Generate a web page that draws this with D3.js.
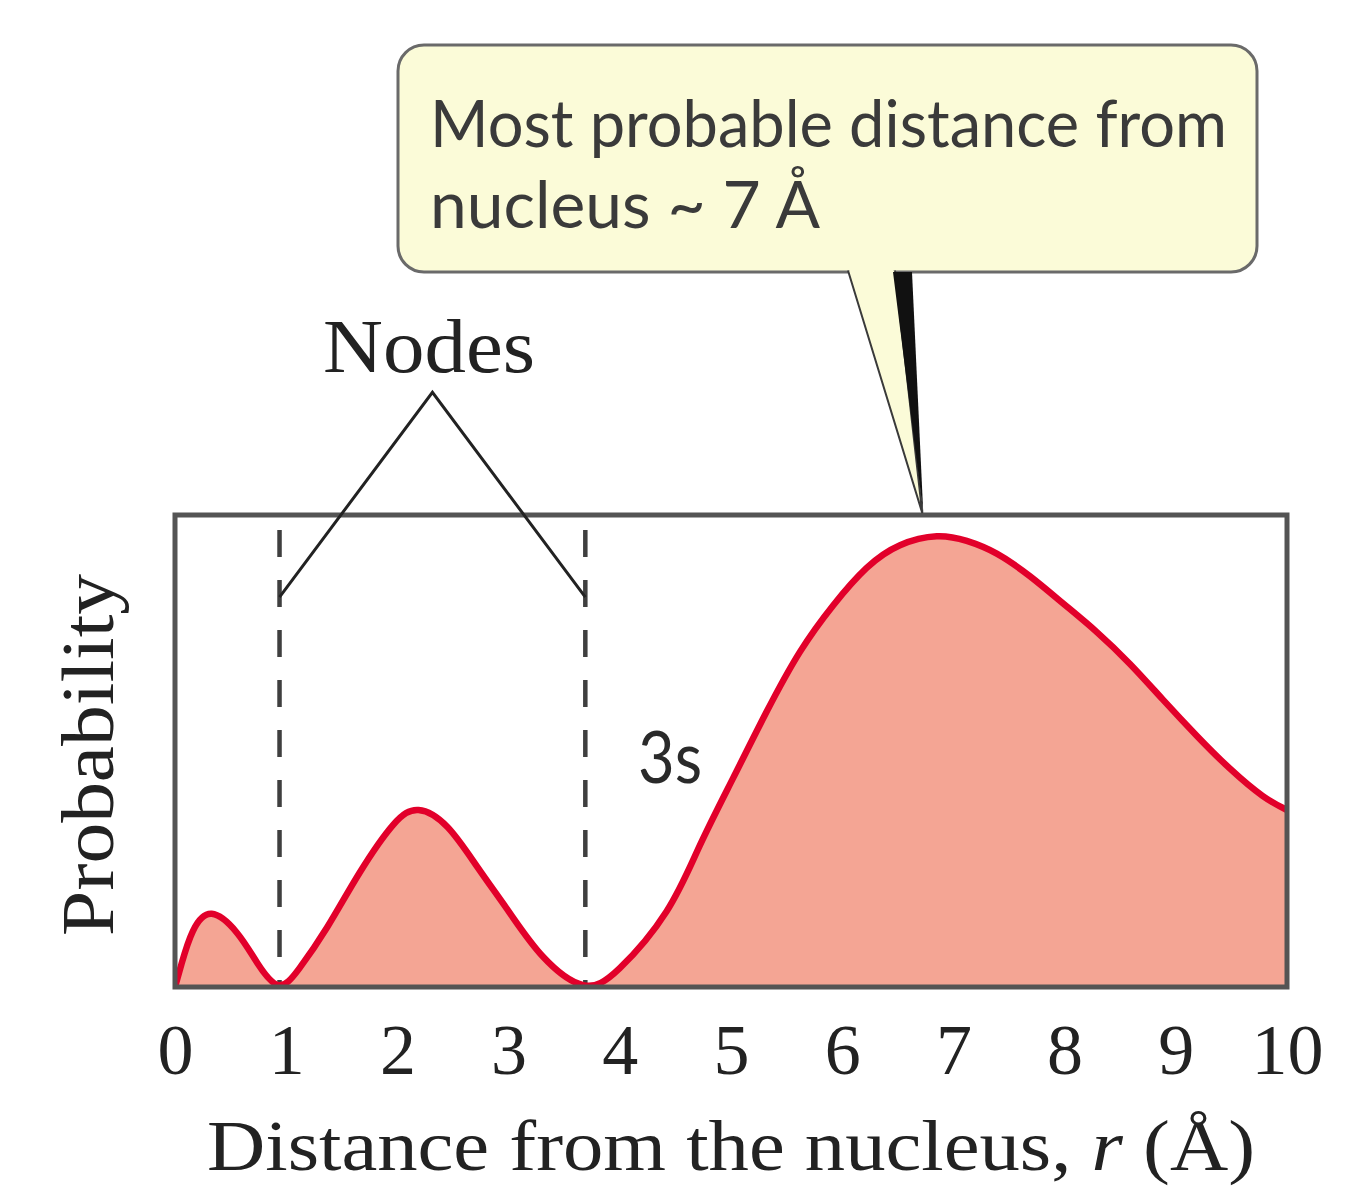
<!DOCTYPE html>
<html>
<head>
<meta charset="utf-8">
<script src="https://cdn.jsdelivr.net/npm/d3@7"></script>
<style>
  html, body { margin: 0; padding: 0; background: #ffffff; }
  svg { display: block; }
</style>
</head>
<body>
<svg id="chart" width="1354" height="1200"></svg>
<script>
// ---------- data ----------
const radius = [0, 0.06, 0.16, 0.33, 0.56, 0.74, 0.93, 1.12, 1.37, 1.66, 1.96, 2.19, 2.45, 2.72, 3.01, 3.31, 3.67, 4.00, 4.42, 4.72, 5.02, 5.32, 5.62, 5.92, 6.22, 6.52, 6.85, 7.12, 7.39, 7.69, 7.99, 8.29, 8.59, 8.88, 9.19, 9.49, 9.78, 10.0];
const probability = [0, 0.05, 0.118, 0.155, 0.114, 0.051, 0.004, 0.040, 0.127, 0.242, 0.343, 0.375, 0.339, 0.254, 0.157, 0.064, 0.004, 0.040, 0.160, 0.300, 0.443, 0.583, 0.710, 0.809, 0.888, 0.936, 0.955, 0.945, 0.918, 0.870, 0.812, 0.752, 0.684, 0.610, 0.532, 0.462, 0.405, 0.375];
const tickValues = [0, 1, 2, 3, 4, 5, 6, 7, 8, 9, 10];
const tickLabels = ["0", "1", "2", "3", "4", "5", "6", "7", "8", "9", "10"];
const nodePositions = [0.94, 3.69];
const xTitle = ["Distance from the nucleus, ", "r", " (Å)"];
const yTitle = "Probability";
const seriesLabel = "3s";
const nodesLabel = "Nodes";
const calloutLines = ["Most probable distance from", "nucleus ~ 7 Å"];
const mostProbable = 6.72;

// ---------- layout ----------
const svg = d3.select("#chart");
const plot = { left: 175, right: 1287, top: 515, bottom: 987 };
const x = d3.scaleLinear().domain([0, 10]).range([plot.left, plot.right]);
const y = d3.scaleLinear().domain([0, 1]).range([plot.bottom, plot.top]);
const serif = "'Liberation Serif', 'DejaVu Serif', serif";
const sans = "Lato, 'Open Sans', 'DejaVu Sans', sans-serif";

const data = radius.map((r, i) => ({ r, p: probability[i] }));

svg.append("defs").append("clipPath").attr("id", "plotClip")
  .append("rect")
  .attr("x", plot.left).attr("y", plot.top)
  .attr("width", plot.right - plot.left).attr("height", plot.bottom - plot.top);

const g = svg.append("g").attr("clip-path", "url(#plotClip)");

// filled area
const area = d3.area().x(d => x(d.r)).y0(y(0)).y1(d => y(d.p)).curve(d3.curveNatural);
g.append("path").datum(data).attr("d", area).attr("fill", "#f4a594");

// node dashed lines
g.selectAll("line.node").data(nodePositions).enter().append("line")
  .attr("class", "node")
  .attr("x1", d => x(d)).attr("x2", d => x(d))
  .attr("y1", y(0.968)).attr("y2", y(0))
  .attr("stroke", "#3f3f3f").attr("stroke-width", 4.5)
  .attr("stroke-dasharray", "27 23");

// curve line
const line = d3.line().x(d => x(d.r)).y(d => y(d.p)).curve(d3.curveNatural);
g.append("path").datum(data).attr("d", line)
  .attr("fill", "none").attr("stroke", "#e2002a").attr("stroke-width", 6.5)
  .attr("stroke-linejoin", "round");

// frame
svg.append("rect")
  .attr("x", plot.left).attr("y", plot.top)
  .attr("width", plot.right - plot.left).attr("height", plot.bottom - plot.top)
  .attr("fill", "none").attr("stroke", "#545454").attr("stroke-width", 5);

// x axis (labels only)
const xAxis = d3.axisBottom(x).tickValues(tickValues).tickSize(0)
  .tickFormat((d, i) => tickLabels[i]);
const ax = svg.append("g").attr("transform", `translate(0,${plot.bottom})`).call(xAxis);
ax.select(".domain").remove();
ax.selectAll("text")
  .attr("dy", null).attr("y", 87)
  .attr("font-family", serif).attr("font-size", 72).attr("fill", "#222");

// x title
const xt = svg.append("text")
  .attr("x", 731).attr("y", 1170)
  .attr("text-anchor", "middle")
  .attr("font-family", serif).attr("font-size", 72).attr("fill", "#222")
  .attr("textLength", 1048).attr("lengthAdjust", "spacingAndGlyphs");
xt.append("tspan").text(xTitle[0]);
xt.append("tspan").attr("font-style", "italic").text(xTitle[1]);
xt.append("tspan").text(xTitle[2]);

// y title
svg.append("text")
  .attr("transform", "translate(113,755) rotate(-90)")
  .attr("text-anchor", "middle")
  .attr("font-family", serif).attr("font-size", 74).attr("fill", "#222")
  .attr("textLength", 362).attr("lengthAdjust", "spacingAndGlyphs")
  .text(yTitle);

// series label
svg.append("text")
  .attr("x", 638).attr("y", 783)
  .attr("font-family", sans).attr("font-size", 72).attr("fill", "#2a2a2a")
  .attr("textLength", 64).attr("lengthAdjust", "spacingAndGlyphs")
  .text(seriesLabel);

// Nodes annotation
const apex = { x: (x(nodePositions[0]) + x(nodePositions[1])) / 2, y: y(1.26) };
svg.append("path")
  .attr("d", `M${x(nodePositions[0])},${y(0.826)} L${apex.x},${apex.y} L${x(nodePositions[1])},${y(0.826)}`)
  .attr("fill", "none").attr("stroke", "#222").attr("stroke-width", 3);
svg.append("text")
  .attr("x", 429).attr("y", 372)
  .attr("text-anchor", "middle")
  .attr("font-family", serif).attr("font-size", 76).attr("fill", "#222")
  .attr("textLength", 212).attr("lengthAdjust", "spacingAndGlyphs")
  .text(nodesLabel);

// callout
const box = { x: 398, y: 45, w: 859, h: 227, r: 26 };
const tip = { x: x(mostProbable), y: y(1) - 2 };
svg.append("rect")
  .attr("x", box.x).attr("y", box.y).attr("width", box.w).attr("height", box.h)
  .attr("rx", box.r).attr("ry", box.r)
  .attr("fill", "#fbfbd8").attr("stroke", "#6a6a6a").attr("stroke-width", 3);
// pointer body
svg.append("path")
  .attr("d", `M${848},${box.y + box.h - 1.5} L${tip.x},${tip.y} L${895},${box.y + box.h - 1.5}`)
  .attr("fill", "#fbfbd8").attr("stroke", "#3a3a3a").attr("stroke-width", 2);
svg.append("path")
  .attr("d", `M${850},${box.y + box.h} L${893},${box.y + box.h}`)
  .attr("stroke", "#fbfbd8").attr("stroke-width", 4);
// pointer shadow
svg.append("path")
  .attr("d", `M${893},${box.y + box.h} L${912},${box.y + box.h} L${tip.x + 1},${tip.y} Z`)
  .attr("fill", "#111").attr("stroke", "none");

const ct = svg.append("g").attr("font-family", sans).attr("font-size", 66).attr("fill", "#3a3a3a");
ct.append("text").attr("x", 430).attr("y", 147)
  .attr("textLength", 797).attr("lengthAdjust", "spacingAndGlyphs")
  .text(calloutLines[0]);
ct.append("text").attr("x", 430).attr("y", 228)
  .attr("textLength", 390).attr("lengthAdjust", "spacingAndGlyphs")
  .text(calloutLines[1]);
</script>
</body>
</html>
